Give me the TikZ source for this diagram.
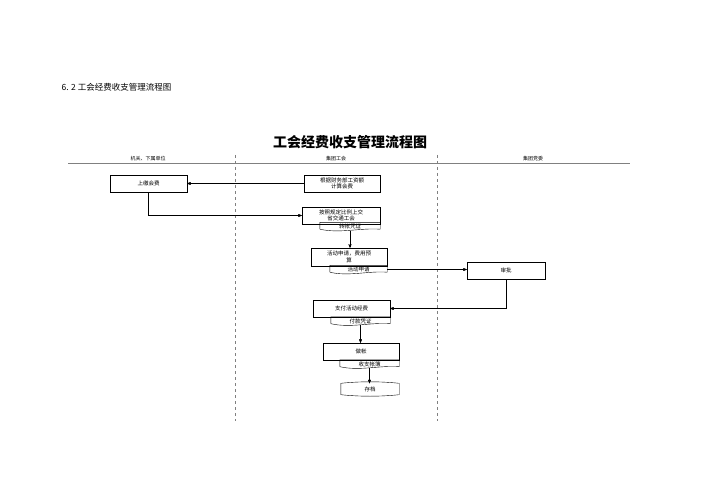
\documentclass[tikz,border=0pt]{standalone}
\usepackage{fontspec}
\setmainfont{Liberation Serif}
\newfontfamily\cjk{Noto Sans CJK SC}
\usetikzlibrary{arrows}
\usetikzlibrary{calc}
\usetikzlibrary{positioning}

\tikzset{
  taskbox/.style={draw,thin,rectangle,inner sep=1pt,align=center,font=\cjk\fontsize{5.5}{6.5}\selectfont},
  doc/.style={rectangle,inner sep=0pt,font=\cjk\fontsize{5.5}{6.5}\selectfont},
  lane/.style={font=\cjk\fontsize{5}{6}\selectfont},
  flow/.style={thin,->,>=stealth'}
}

\begin{document}
\begin{tikzpicture}[x=1pt,y=-1pt]
  \useasboundingbox (0,0) rectangle (707,500);

  \node [anchor=west,font=\cjk\fontsize{8.5}{10}\selectfont] (head) at (58,87) {6. 2 工会经费收支管理流程图};
  \node [font=\cjk\bfseries\fontsize{14}{16}\selectfont] (title) at (350,142) {工会经费收支管理流程图};

  % lanes
  \draw [thin,gray] (68,163) -- (630,163);
  \draw [thin,dashed,gray] (235,155) -- (235,421);
  \draw [thin,dashed,gray] (437,155) -- (437,421);
  \node [lane] (laneA) at (148,159) {机关、下属单位};
  \node [lane] (laneB) at (336,159) {集团工会};
  \node [lane] (laneC) at (533,159) {集团党委};

  % steps
  \node [taskbox,minimum width=77,minimum height=17] (pay) at (148.5,183.5) {上缴会费};
  \node [taskbox,minimum width=76,minimum height=17] (calc) at (342,183.5) {根据财务部工资额\\计算会费};
  \node [taskbox,minimum width=78,minimum height=17] (hand) at (341,215.5) {按照规定比例上交\\省交通工会};
  \node [doc,minimum width=60,minimum height=8] (voucher) at (350,226.5) {转帐凭证};
  \node [taskbox,minimum width=76,minimum height=18] (apply) at (349,257) {活动申请，费用预\\算};
  \node [doc,minimum width=57,minimum height=8] (form) at (358.5,269.5) {活动申请};
  \node [taskbox,minimum width=78,minimum height=17] (ok) at (506,270.5) {审批};
  \node [taskbox,minimum width=77,minimum height=17] (spend) at (351.5,308.5) {支付活动经费};
  \node [doc,minimum width=59,minimum height=8] (receipt) at (360.5,321) {付款凭证};
  \node [taskbox,minimum width=76,minimum height=17] (book) at (361,351.5) {做帐};
  \node [doc,minimum width=59,minimum height=8] (ledger) at (369.5,364) {收支帐簿};
  \node [doc,minimum width=58,minimum height=11] (file) at (370,389) {存档};

  % document shapes
  \foreach \d in {voucher,form,receipt,ledger}
    \draw [thin] ($(\d.south west)+(0,-1.5)$) -- (\d.north west) -- (\d.north east) -- ($(\d.south east)+(0,-1.5)$)
      .. controls ($(\d.south)+(10,-3)$) and ($(\d.south)+(-10,3)$) .. ($(\d.south west)+(0,-1.5)$);
  \draw [thin] (file.north west) .. controls ($(file.north)+(-10,-2)$) and ($(file.north)+(10,-2)$) .. (file.north east)
    -- (file.south east) .. controls ($(file.south)+(10,2)$) and ($(file.south)+(-10,2)$) .. (file.south west) -- cycle;

  % connectors
  \draw [flow] (calc) -- (pay);
  \draw [flow] (pay.south) |- (hand.west);
  \draw [flow] (voucher.south) -- (voucher.south |- apply.north);
  \draw [flow] (form.east) -- (form.east -| ok.west);
  \draw [flow] (ok.south) |- (spend.east);
  \draw [flow] (receipt.south) -- (receipt.south |- book.north);
  \draw [flow] (ledger.south) -- (ledger.south |- file.north);

\end{tikzpicture}
\end{document}
